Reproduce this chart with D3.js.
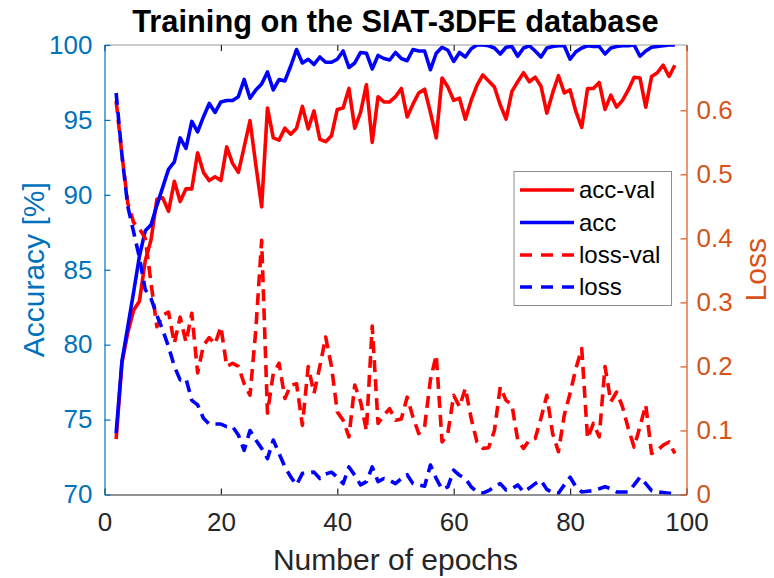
<!DOCTYPE html>
<html>
<head>
<meta charset="utf-8">
<script src="https://cdn.jsdelivr.net/npm/d3@7"></script>
<style>
  body { margin: 0; background: #fff; }
  svg { display: block; font-family: "Liberation Sans", Arial, Helvetica, sans-serif; }
</style>
</head>
<body>
<svg id="chart" width="774" height="578"></svg>
<script>
// Training history, one value per epoch (epochs 2..98)
const epochs = d3.range(2, 99);

const accVal = [
  73.7, 78.8, 80.8, 82.3, 82.9, 85.6, 87.0, 89.7, 89.8, 88.9,
  90.9, 89.55, 90.4, 90.4, 92.8, 91.5, 90.95, 91.2, 90.95, 93.2,
  92.1, 91.5, 93.2, 94.95, 92.0, 89.2, 95.8, 93.8, 93.65, 94.45,
  94.05, 94.45, 95.9, 94.4, 95.6, 93.7, 93.55, 93.95, 95.7, 95.8,
  97.1, 94.45, 95.5, 97.35, 93.5, 96.55, 96.2, 96.2, 96.55, 97.1,
  95.2, 96.05, 96.8, 97.05, 95.5, 93.8, 97.8, 97.2, 96.3, 96.45,
  95.05, 96.3, 97.3, 98.0, 97.6, 97.2, 96.0, 95.05, 96.9, 97.55,
  98.15, 97.55, 97.85, 97.25, 95.45, 96.8, 97.95, 96.8, 97.0, 95.55,
  94.5, 97.1, 97.1, 97.5, 95.7, 96.65, 95.85, 96.3, 97.0, 97.85,
  97.8, 95.85, 97.9, 98.15, 98.65, 97.9, 98.65
];

const acc = [
  74.1, 78.9, 81.2, 83.5, 85.9, 87.6, 88.0, 89.3, 90.5, 91.7,
  92.2, 93.8, 93.1, 94.9, 94.2, 95.2, 96.1, 95.5, 96.2, 96.3,
  96.3, 96.55, 97.7, 96.45, 97.0, 97.4, 98.2, 97.0, 97.7, 97.6,
  98.6, 99.7, 98.8, 99.05, 98.7, 99.2, 98.85, 98.85, 99.05, 99.6,
  98.5, 98.8, 99.5, 99.45, 98.4, 99.3, 99.1, 99.0, 99.5, 99.1,
  98.95, 99.7, 99.6, 99.6, 98.35, 99.45, 99.85, 99.65, 98.9, 99.5,
  99.2, 99.75, 100, 100, 99.95, 99.8, 99.4, 99.85, 99.9, 99.25,
  99.8, 99.95, 99.6, 99.2, 99.8, 99.9, 99.95, 99.95, 99.05, 99.55,
  99.8, 99.95, 99.9, 99.9, 99.4, 99.8, 99.9, 99.95, 99.95, 100,
  99.25, 99.6, 99.85, 99.9, 99.95, 100, 100
];

const lossVal = [
  0.615, 0.53, 0.455, 0.425, 0.415, 0.40, 0.33, 0.262, 0.28, 0.285,
  0.236, 0.277, 0.238, 0.283, 0.19, 0.233, 0.245, 0.235, 0.262, 0.2,
  0.205, 0.2, 0.173, 0.155, 0.257, 0.397, 0.127, 0.189, 0.205, 0.15,
  0.171, 0.173, 0.108, 0.2, 0.158, 0.2, 0.246, 0.2, 0.129, 0.116,
  0.09, 0.171, 0.145, 0.1, 0.263, 0.111, 0.124, 0.134, 0.116, 0.118,
  0.152, 0.121, 0.095, 0.106, 0.179, 0.218, 0.082, 0.096, 0.155, 0.137,
  0.166, 0.119, 0.082, 0.072, 0.073, 0.1, 0.168, 0.147, 0.14, 0.085,
  0.072, 0.085, 0.0875, 0.119, 0.155, 0.095, 0.067, 0.124, 0.158, 0.197,
  0.228, 0.0875, 0.111, 0.09, 0.2, 0.145, 0.16, 0.137, 0.103, 0.074,
  0.106, 0.14, 0.064, 0.069, 0.077, 0.082, 0.064
];

const loss = [
  0.627, 0.53, 0.45, 0.41, 0.37, 0.32, 0.306, 0.28, 0.257, 0.231,
  0.2, 0.179, 0.181, 0.147, 0.14, 0.119, 0.11, 0.11, 0.11, 0.106,
  0.106, 0.093, 0.069, 0.1, 0.085, 0.072, 0.056, 0.085, 0.064, 0.043,
  0.0275, 0.015, 0.033, 0.034, 0.035, 0.025, 0.032, 0.035, 0.027, 0.017,
  0.043, 0.03, 0.015, 0.02, 0.043, 0.02, 0.025, 0.022, 0.017, 0.025,
  0.031, 0.017, 0.015, 0.013, 0.046, 0.025, 0.008, 0.012, 0.038, 0.03,
  0.025, 0.012, 0.004, 0.002, 0.006, 0.012, 0.017, 0.007, 0.009, 0.015,
  0.004, 0.01, 0.017, 0.022, 0.008, 0.003, 0.002, 0.015, 0.027, 0.012,
  0.004, 0.005, 0.006, 0.009, 0.012, 0.009, 0.004, 0.004, 0.004, 0.015,
  0.027, 0.017, 0.006, 0.004, 0.003, 0.002, 0.002
];

const xTicks = [0, 20, 40, 60, 80, 100];
const accTicks = [70, 75, 80, 85, 90, 95, 100];
const lossTicks = [0, 0.1, 0.2, 0.3, 0.4, 0.5, 0.6];

const seriesNames = ["acc-val", "acc", "loss-val", "loss"];
const titleText = "Training on the SIAT-3DFE database";
const xLabel = "Number of epochs";
const leftLabel = "Accuracy [%]";
const rightLabel = "Loss";

// Layout
const W = 774, H = 578;
const m = { left: 104.5, right: 686.5, top: 45, bottom: 494.5 };
const LEFT_C = "#0072BD", RIGHT_C = "#D95319", AX_C = "#262626";
const TICK_FS = 26, LABEL_FS = 30, TITLE_FS = 30.8;

const svg = d3.select("#chart");

const x = d3.scaleLinear().domain([0, 100]).range([m.left, m.right]);
const yAcc = d3.scaleLinear().domain([70, 100]).range([m.bottom, m.top]);
const yLoss = d3.scaleLinear().domain([0, 0.702]).range([m.bottom, m.top]);

svg.append("defs").append("clipPath").attr("id", "plotClip")
  .append("rect")
  .attr("x", m.left).attr("y", m.top)
  .attr("width", m.right - m.left).attr("height", m.bottom - m.top);

// Axes box: top edge
svg.append("line")
  .attr("x1", m.left).attr("x2", m.right)
  .attr("y1", m.top).attr("y2", m.top)
  .attr("stroke", "#9a9a9a").attr("stroke-width", 1);

function styleAxis(g, color) {
  g.select(".domain").attr("stroke", color).attr("stroke-width", 1.2);
  g.selectAll(".tick line").attr("stroke", color).attr("stroke-width", 1.2);
  g.selectAll(".tick text")
    .attr("fill", color)
    .attr("font-size", TICK_FS)
    .attr("font-family", "'Liberation Sans', Arial, Helvetica, sans-serif");
}

// Top tick marks
const gTop = svg.append("g").attr("transform", `translate(0,${m.top})`)
  .call(d3.axisTop(x).tickValues(xTicks).tickSizeInner(-6).tickSizeOuter(0).tickFormat(""));
gTop.select(".domain").remove();
gTop.selectAll(".tick line").attr("stroke", AX_C).attr("stroke-width", 1.2);

// Bottom axis
const gX = svg.append("g").attr("transform", `translate(0,${m.bottom})`)
  .call(d3.axisBottom(x).tickValues(xTicks).tickSizeInner(-6).tickSizeOuter(0).tickPadding(18).tickFormat(d3.format("d")));
styleAxis(gX, AX_C);

// Left accuracy axis
const gL = svg.append("g").attr("transform", `translate(${m.left},0)`)
  .call(d3.axisLeft(yAcc).tickValues(accTicks).tickSizeInner(-6).tickSizeOuter(0).tickPadding(12).tickFormat(d3.format("d")));
styleAxis(gL, LEFT_C);

// Right loss axis
const gR = svg.append("g").attr("transform", `translate(${m.right},0)`)
  .call(d3.axisRight(yLoss).tickValues(lossTicks).tickSizeInner(-6).tickSizeOuter(0).tickPadding(10).tickFormat(d => d === 0 ? "0" : d3.format(".1f")(d)));
styleAxis(gR, RIGHT_C);

// Data lines
const plot = svg.append("g").attr("clip-path", "url(#plotClip)");
const lineAcc = d3.line().x((d, i) => x(epochs[i])).y(d => yAcc(d));
const lineLoss = d3.line().x((d, i) => x(epochs[i])).y(d => yLoss(d));

const styles = [
  { data: accVal, line: lineAcc, color: "#FF0000", dash: null },
  { data: acc, line: lineAcc, color: "#0000FF", dash: null },
  { data: lossVal, line: lineLoss, color: "#FF0000", dash: "12,7" },
  { data: loss, line: lineLoss, color: "#0000FF", dash: "12,7" }
];

styles.forEach(s => {
  plot.append("path")
    .attr("d", s.line(s.data))
    .attr("fill", "none")
    .attr("stroke", s.color)
    .attr("stroke-width", 3.6)
    .attr("stroke-linejoin", "round")
    .attr("stroke-dasharray", s.dash);
});

// Title and axis labels
svg.append("text")
  .attr("x", (m.left + m.right) / 2).attr("y", 32)
  .attr("text-anchor", "middle")
  .attr("font-size", TITLE_FS).attr("font-weight", "bold")
  .attr("fill", "#000")
  .text(titleText);

svg.append("text")
  .attr("x", (m.left + m.right) / 2).attr("y", 570)
  .attr("text-anchor", "middle")
  .attr("font-size", LABEL_FS).attr("fill", AX_C)
  .text(xLabel);

svg.append("text")
  .attr("transform", `translate(44,${(m.top + m.bottom) / 2}) rotate(-90)`)
  .attr("text-anchor", "middle")
  .attr("font-size", LABEL_FS).attr("fill", LEFT_C)
  .text(leftLabel);

svg.append("text")
  .attr("transform", `translate(766,${(m.top + m.bottom) / 2}) rotate(-90)`)
  .attr("text-anchor", "middle")
  .attr("font-size", LABEL_FS).attr("fill", RIGHT_C)
  .text(rightLabel);

// Legend
const leg = svg.append("g");
leg.append("rect")
  .attr("x", 514).attr("y", 171.5)
  .attr("width", 157.5).attr("height", 134)
  .attr("fill", "#fff").attr("stroke", "#8c8c8c").attr("stroke-width", 1);

const legRows = [190, 222.5, 255, 287];
seriesNames.forEach((name, i) => {
  const s = styles[i];
  leg.append("line")
    .attr("x1", 520).attr("x2", 574)
    .attr("y1", legRows[i]).attr("y2", legRows[i])
    .attr("stroke", s.color).attr("stroke-width", 3.6)
    .attr("stroke-dasharray", s.dash ? "12,9" : null);
  leg.append("text")
    .attr("x", 579).attr("y", legRows[i])
    .attr("dy", "0.35em")
    .attr("font-size", 24).attr("fill", "#000")
    .text(name);
});
</script>
</body>
</html>
